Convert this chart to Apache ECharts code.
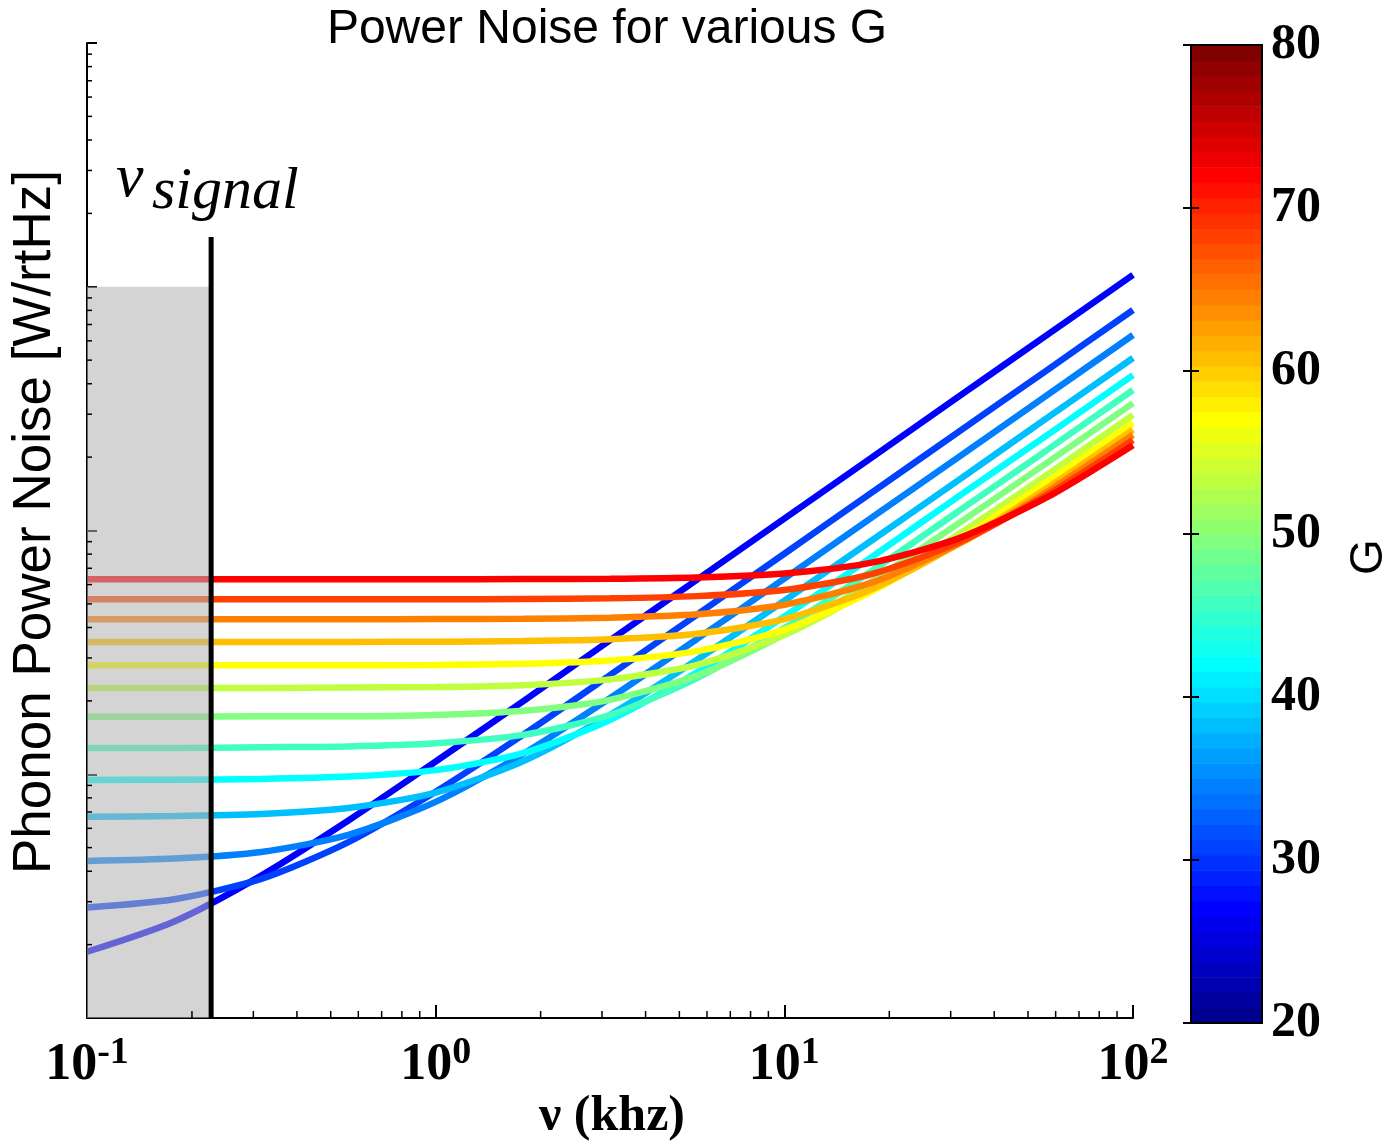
<!DOCTYPE html>
<html>
<head>
<meta charset="utf-8">
<script src="https://cdn.jsdelivr.net/npm/echarts@6/dist/echarts.min.js"></script>
<style>
  html, body { margin: 0; padding: 0; background: #ffffff; }
  #chart { width: 1391px; height: 1146px; }
</style>
</head>
<body>
<div id="chart"></div>
<script>
// Frequencies (kHz) at which each noise curve is sampled
const FREQ_KHZ = [0.1, 0.178, 0.316, 0.562, 1, 1.78, 3.16, 5.62, 10, 17.8, 31.6, 56.2, 100];

// Thermal conductance of each curve (position on the colour scale)
const G_VALUES = [27.5, 31.25, 35, 38.75, 42.5, 46.25, 50, 53.75, 57.5, 61.25, 65, 68.75, 72.5];

// Phonon power noise [W/rtHz], one array per G
const noiseG1  = [1.87e-18, 2.49e-18, 3.84e-18, 6.46e-18, 1.128e-17, 1.99e-17, 3.54e-17, 6.29e-17, 1.118e-16, 1.99e-16, 3.54e-16, 6.29e-16, 1.118e-15];
const noiseG2  = [2.84e-18, 3.07e-18, 3.72e-18, 5.27e-18, 8.48e-18, 1.45e-17, 2.55e-17, 4.52e-17, 8.03e-17, 1.43e-16, 2.54e-16, 4.51e-16, 8.03e-16];
const noiseG3  = [4.41e-18, 4.51e-18, 4.80e-18, 5.64e-18, 7.70e-18, 1.21e-17, 2.05e-17, 3.59e-17, 6.35e-17, 1.13e-16, 2.00e-16, 3.56e-16, 6.34e-16];
const noiseG4  = [6.70e-18, 6.74e-18, 6.87e-18, 7.27e-18, 8.41e-18, 1.13e-17, 1.75e-17, 2.95e-17, 5.15e-17, 9.10e-17, 1.61e-16, 2.87e-16, 5.10e-16];
const noiseG5  = [9.48e-18, 9.50e-18, 9.57e-18, 9.78e-18, 1.04e-17, 1.22e-17, 1.67e-17, 2.62e-17, 4.44e-17, 7.78e-17, 1.38e-16, 2.44e-16, 4.34e-16];
const noiseG6  = [1.28e-17, 1.28e-17, 1.29e-17, 1.30e-17, 1.34e-17, 1.45e-17, 1.75e-17, 2.48e-17, 3.98e-17, 6.82e-17, 1.20e-16, 2.12e-16, 3.77e-16];
const noiseG7  = [1.72e-17, 1.72e-17, 1.73e-17, 1.73e-17, 1.75e-17, 1.82e-17, 2.02e-17, 2.54e-17, 3.75e-17, 6.17e-17, 1.07e-16, 1.88e-16, 3.33e-16];
const noiseG8  = [2.26e-17, 2.26e-17, 2.26e-17, 2.27e-17, 2.28e-17, 2.32e-17, 2.45e-17, 2.81e-17, 3.73e-17, 5.74e-17, 9.65e-17, 1.68e-16, 2.98e-16];
const noiseG9  = [2.80e-17, 2.80e-17, 2.80e-17, 2.80e-17, 2.81e-17, 2.84e-17, 2.93e-17, 3.20e-17, 3.92e-17, 5.63e-17, 9.13e-17, 1.57e-16, 2.76e-16];
const noiseG10 = [3.49e-17, 3.49e-17, 3.49e-17, 3.49e-17, 3.50e-17, 3.52e-17, 3.58e-17, 3.77e-17, 4.33e-17, 5.74e-17, 8.82e-17, 1.48e-16, 2.59e-16];
const noiseG11 = [4.32e-17, 4.32e-17, 4.32e-17, 4.32e-17, 4.33e-17, 4.34e-17, 4.39e-17, 4.53e-17, 4.96e-17, 6.11e-17, 8.81e-17, 1.43e-16, 2.47e-16];
const noiseG12 = [5.22e-17, 5.22e-17, 5.22e-17, 5.22e-17, 5.22e-17, 5.24e-17, 5.27e-17, 5.38e-17, 5.70e-17, 6.62e-17, 8.94e-17, 1.39e-16, 2.35e-16];
const noiseG13 = [6.31e-17, 6.31e-17, 6.31e-17, 6.31e-17, 6.31e-17, 6.32e-17, 6.34e-17, 6.42e-17, 6.66e-17, 7.38e-17, 9.28e-17, 1.36e-16, 2.24e-16];

const NOISE_CURVES = [noiseG1, noiseG2, noiseG3, noiseG4, noiseG5, noiseG6, noiseG7,
                      noiseG8, noiseG9, noiseG10, noiseG11, noiseG12, noiseG13];

// Signal band: shaded below nu_signal, marked by a vertical line
const NU_SIGNAL = 0.227;
const SHADE_TOP = 1e-15;
const SIGNAL_LINE_TOP = 1.6e-15;

// Axis ranges and minor tick positions
const X_MIN = 0.1, X_MAX = 100;
const Y_MIN = 1e-18, Y_MAX = 1e-14;
const X_MINOR_TICKS = [0.2, 0.3, 0.4, 0.5, 0.6, 0.7, 0.8, 0.9,
                       2, 3, 4, 5, 6, 7, 8, 9,
                       20, 30, 40, 50, 60, 70, 80, 90];
const Y_MINOR_TICKS = [2e-18, 3e-18, 4e-18, 5e-18, 6e-18, 7e-18, 8e-18, 9e-18,
                       2e-17, 3e-17, 4e-17, 5e-17, 6e-17, 7e-17, 8e-17, 9e-17,
                       2e-16, 3e-16, 4e-16, 5e-16, 6e-16, 7e-16, 8e-16, 9e-16,
                       2e-15, 3e-15, 4e-15, 5e-15, 6e-15, 7e-15, 8e-15, 9e-15];

// Colour scale
const G_MIN = 20, G_MAX = 80, G_TICK = 10;
const COLORMAP_LEVELS = 64;

function jet(t) {
  const c = v => Math.round(255 * Math.max(0, Math.min(1, v)));
  return 'rgb(' + c(1.5 - Math.abs(4 * t - 3)) + ',' + c(1.5 - Math.abs(4 * t - 2)) + ',' + c(1.5 - Math.abs(4 * t - 1)) + ')';
}

const SERIF = '"Liberation Serif", "Times New Roman", serif';
const SANS = '"Liberation Sans", Arial, sans-serif';

const lineSeries = NOISE_CURVES.map((vals, k) => ({
  type: 'line',
  name: 'G=' + G_VALUES[k],
  xAxisIndex: 0,
  yAxisIndex: 0,
  data: FREQ_KHZ.map((f, j) => [f, vals[j]]),
  showSymbol: false,
  symbol: 'none',
  smooth: 0.25,
  lineStyle: { width: 6.5, color: jet((G_VALUES[k] - G_MIN) / (G_MAX - G_MIN)), cap: 'butt' },
  z: 2,
  silent: true
}));

// Colour bar cells
const bands = [];
for (let i = 0; i < COLORMAP_LEVELS; i++) {
  const lo = G_MIN + i * (G_MAX - G_MIN) / COLORMAP_LEVELS;
  const hi = G_MIN + (i + 1) * (G_MAX - G_MIN) / COLORMAP_LEVELS;
  bands.push([0, lo, hi, (i + 1) / COLORMAP_LEVELS]);
}

const chart = echarts.init(document.getElementById('chart'), null, { renderer: 'canvas' });

const option = {
  animation: false,
  backgroundColor: '#ffffff',
  grid: [
    { left: 87, top: 43, width: 1046, height: 975 },
    { left: 1191, top: 45, width: 71, height: 978, show: true, borderColor: '#000', borderWidth: 2, z: 10, backgroundColor: 'transparent' }
  ],
  xAxis: [
    {
      type: 'log', logBase: 10, gridIndex: 0, min: X_MIN, max: X_MAX,
      axisLine: { onZero: false, lineStyle: { color: '#000', width: 2 } },
      axisTick: { inside: true, length: 13, lineStyle: { color: '#000', width: 2 } },
      splitLine: { show: false },
      axisLabel: {
        margin: 16,
        formatter: v => '{b|10}{s|' + Math.round(Math.log10(v)) + '}',
        rich: {
          b: { fontFamily: SERIF, fontWeight: 'bold', fontSize: 52, lineHeight: 64, color: '#000' },
          s: { fontFamily: SERIF, fontWeight: 'bold', fontSize: 38, lineHeight: 20, verticalAlign: 'top', color: '#000' }
        }
      },
      z: 5
    },
    { type: 'value', gridIndex: 1, min: 0, max: 1, show: false }
  ],
  yAxis: [
    {
      type: 'log', logBase: 10, gridIndex: 0, min: Y_MIN, max: Y_MAX,
      axisLine: { onZero: false, lineStyle: { color: '#000', width: 2 } },
      axisTick: { inside: true, length: 10, lineStyle: { color: '#000', width: 2 } },
      axisLabel: { show: false },
      splitLine: { show: false },
      z: 5
    },
    {
      type: 'value', gridIndex: 1, min: G_MIN, max: G_MAX, interval: G_TICK, position: 'right',
      axisLine: { show: false },
      axisTick: { inside: true, length: 8, lineStyle: { color: '#000', width: 2 } },
      axisLabel: { margin: 9, fontFamily: SERIF, fontWeight: 'bold', fontSize: 50, color: '#000' },
      splitLine: { show: false },
      z: 11
    },
    {
      type: 'value', gridIndex: 1, min: G_MIN, max: G_MAX, interval: G_TICK, position: 'left',
      axisLine: { show: false },
      axisTick: { inside: true, length: 8, lineStyle: { color: '#000', width: 2 } },
      axisLabel: { show: false },
      splitLine: { show: false },
      z: 11
    }
  ],
  series: [
    ...lineSeries,
    {
      // grey shading of the signal band, drawn over the curves
      type: 'custom', xAxisIndex: 0, yAxisIndex: 0, z: 6, silent: true,
      data: [[X_MIN, NU_SIGNAL, Y_MIN, SHADE_TOP]],
      renderItem: (params, api) => {
        const a = api.coord([api.value(0), api.value(3)]);
        const b = api.coord([api.value(1), api.value(2)]);
        return {
          type: 'rect',
          shape: { x: a[0], y: a[1], width: b[0] - a[0], height: b[1] - a[1] },
          style: { fill: 'rgba(178,178,178,0.56)' }
        };
      }
    },
    {
      // nu_signal marker
      type: 'custom', xAxisIndex: 0, yAxisIndex: 0, z: 7, silent: true,
      data: [[NU_SIGNAL, Y_MIN, SIGNAL_LINE_TOP]],
      renderItem: (params, api) => {
        const a = api.coord([api.value(0), api.value(2)]);
        const b = api.coord([api.value(0), api.value(1)]);
        return {
          type: 'line',
          shape: { x1: a[0], y1: a[1], x2: b[0], y2: b[1] },
          style: { stroke: '#000', lineWidth: 5 }
        };
      }
    },
    {
      // minor ticks on the frequency axis
      type: 'custom', xAxisIndex: 0, yAxisIndex: 0, z: 8, silent: true,
      data: X_MINOR_TICKS.map(v => [v, Y_MIN]),
      renderItem: (params, api) => {
        const p = api.coord([api.value(0), api.value(1)]);
        return {
          type: 'line',
          shape: { x1: p[0], y1: p[1], x2: p[0], y2: p[1] - 7 },
          style: { stroke: '#000', lineWidth: 1.5 }
        };
      }
    },
    {
      // minor ticks on the noise axis
      type: 'custom', xAxisIndex: 0, yAxisIndex: 0, z: 8, silent: true,
      data: Y_MINOR_TICKS.map(v => [X_MIN, v]),
      renderItem: (params, api) => {
        const p = api.coord([api.value(0), api.value(1)]);
        return {
          type: 'line',
          shape: { x1: p[0], y1: p[1], x2: p[0] + 5, y2: p[1] },
          style: { stroke: '#000', lineWidth: 1.5 }
        };
      }
    },
    {
      // colour bar
      type: 'custom', xAxisIndex: 1, yAxisIndex: 1, z: 2, silent: true,
      data: bands,
      encode: { x: 0, y: [1, 2] },
      renderItem: (params, api) => {
        const top = api.coord([0, api.value(2)]);
        const bot = api.coord([1, api.value(1)]);
        return {
          type: 'rect',
          shape: { x: top[0], y: top[1], width: bot[0] - top[0], height: bot[1] - top[1] + 0.6 },
          style: { fill: jet(api.value(3)) }
        };
      }
    }
  ],
  graphic: [
    {
      type: 'text', x: 607, y: 29.5, silent: true,
      style: { text: 'Power Noise for various G', fontFamily: SANS, fontSize: 48, fill: '#000', align: 'center', verticalAlign: 'middle' }
    },
    {
      type: 'text', x: 35, y: 522, rotation: Math.PI / 2, silent: true,
      style: { text: 'Phonon Power Noise [W/rtHz]', fontFamily: SANS, fontSize: 53, fill: '#000', align: 'center', verticalAlign: 'middle' }
    },
    {
      type: 'text', x: 612, y: 1117, silent: true,
      style: { text: '\u03bd (khz)', fontFamily: SERIF, fontWeight: 'bold', fontSize: 50, fill: '#000', align: 'center', verticalAlign: 'middle' }
    },
    {
      type: 'text', x: 1369, y: 557, rotation: Math.PI / 2, silent: true,
      style: { text: 'G', fontFamily: SANS, fontSize: 46, fill: '#000', align: 'center', verticalAlign: 'middle' }
    },
    {
      type: 'text', x: 116, y: 180, silent: true,
      style: { text: '\u03bd', fontFamily: SERIF, fontStyle: 'italic', fontSize: 62, fill: '#000', align: 'left', verticalAlign: 'middle' }
    },
    {
      type: 'text', x: 152, y: 192, silent: true,
      style: { text: 'signal', fontFamily: SERIF, fontStyle: 'italic', fontSize: 60, fill: '#000', align: 'left', verticalAlign: 'middle' }
    }
  ]
};

chart.setOption(option);
</script>
</body>
</html>
